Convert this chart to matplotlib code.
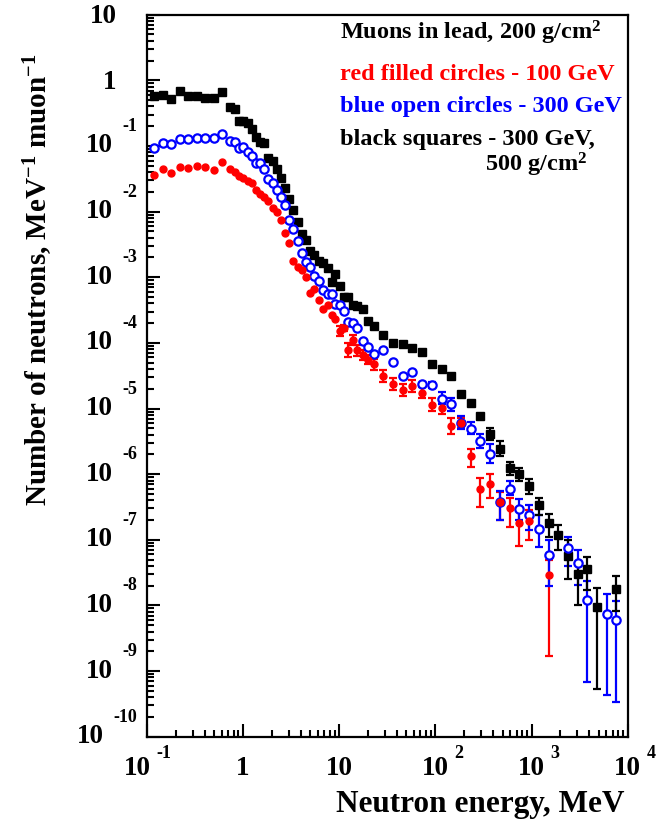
import numpy as np
import matplotlib
matplotlib.use('Agg')
import matplotlib.pyplot as plt

plt.rcParams['font.family'] = ['Liberation Serif', 'DejaVu Serif']
plt.rcParams['font.weight'] = 'bold'
plt.rcParams['mathtext.fontset'] = 'custom'
plt.rcParams['mathtext.rm'] = 'Liberation Serif:bold'
plt.rcParams['mathtext.it'] = 'Liberation Serif:bold:italic'
plt.rcParams['mathtext.bf'] = 'Liberation Serif:bold'

# neutron energy bins, MeV
energy = [0.120, 0.149, 0.181, 0.221, 0.270, 0.333, 0.407, 0.497, 0.609,
          0.738, 0.824, 0.916, 1.01, 1.12, 1.24, 1.36, 1.50, 1.66, 1.84,
          2.04, 2.25, 2.49, 2.74, 3.04, 3.35, 3.71, 4.11, 4.55, 5.02,
          5.54, 6.18, 6.85, 7.58, 8.41, 9.15, 10.1, 11.2, 12.5, 13.8,
          15.4, 17.7, 20.1, 22.9, 28.7, 36.6, 45.7, 57.8, 72.3, 91.9,
          116, 146, 186, 233, 294, 373, 468, 592, 747, 944,
          1200, 1510, 1900, 2390, 3020, 3810, 4810, 6030, 7580]

# black squares - 300 GeV, 500 g/cm2
black = [0.576, 0.597, 0.513, 0.687, 0.582, 0.582, 0.543, 0.532, 0.656,
         0.392, 0.365, 0.242, 0.240, 0.221, 0.179, 0.139, 0.117, 0.110, 0.0661,
         0.0599, 0.0452, 0.0321, 0.0232, 0.0153, 0.01065, 0.00692, 0.00454, 0.00372, 0.00254,
         0.00217, 0.00176, 0.00166, 0.00136, 0.000857, 0.00114, 0.000731, 0.000502, 0.000502, 0.000376,
         0.000362, 3.27e-4, 2.14e-4, 1.80e-4, 1.34e-4, 1.01e-4, 9.46e-5, 8.36e-5, 7.16e-5, 4.70e-5,
         4.00e-5, 3.11e-5, 1.69e-5, 1.23e-5, 7.64e-6, 4.06e-6, 2.42e-6, 1.22e-6, 9.96e-7, 6.65e-7,
         3.44e-7, 1.79e-7, 1.20e-7, 5.60e-8, 2.98e-8, 3.61e-8, 9.46e-9, None, 1.80e-8]
black_err_start = 54
black_lo = [3.29e-6, 1.87e-6, 9.62e-7, 7.80e-7, 5.06e-7, 2.36e-7, 1.10e-7, 6.92e-8,
            2.56e-8, 1.00e-8, 1.70e-8, 5.40e-10, None, 8.11e-9]
black_hi = [5.01e-6, 3.18e-6, 1.52e-6, 1.23e-6, 8.57e-7, 4.40e-7, 2.45e-7, 1.66e-7,
            9.82e-8, 4.39e-8, 5.47e-8, 1.82e-8, None, 2.78e-8]

# blue open circles - 300 GeV
blue = [0.0939, 0.112, 0.107, 0.129, 0.127, 0.133, 0.133, 0.132, 0.152,
        0.120, 0.116, 0.0919, 0.0973, 0.0816, 0.0714, 0.0543, 0.0543, 0.0449, 0.0316,
        0.0275, 0.0213, 0.0168, 0.01243, 0.00742, 0.00547, 0.00355, 0.00231, 0.00170, 0.00144,
        0.00104, 0.000873, 0.000635, 0.000552, 0.000552, 0.000394, 0.000376, 0.000304, 0.000207, 0.000202,
        0.000166, 1.07e-4, 8.51e-5, 6.89e-5, 7.93e-5, 5.13e-5, 3.11e-5, 3.57e-5, 2.35e-5, 2.26e-5,
        1.42e-5, 1.16e-5, 6.08e-6, 4.95e-6, 3.18e-6, 2.06e-6, 3.77e-7, 6.03e-7, 2.99e-7, 2.36e-7,
        1.48e-7, 5.94e-8, None, 7.50e-8, 4.43e-8, 1.20e-8, None, 7.50e-9, 5.93e-9]
blue_err_start = 48
blue_lo = [2.04e-5, 1.16e-5, 9.09e-6, 4.83e-6, 4.06e-6, 2.48e-6, 1.47e-6, 1.98e-7, 4.77e-7, 1.98e-7,
           1.40e-7, 7.77e-8, 1.98e-8, None, 3.94e-8, 2.02e-8, 6.79e-10, None, 4.27e-10, 3.37e-10]
blue_hi = [2.52e-5, 1.77e-5, 1.44e-5, 7.64e-6, 6.18e-6, 4.06e-6, 2.86e-6, 5.48e-7, 7.87e-7, 4.25e-7,
           3.36e-7, 2.36e-7, 9.82e-8, None, 1.10e-7, 6.92e-8, 2.33e-8, None, 1.48e-8, 1.15e-8]

# red filled circles - 100 GeV
red = [0.0360, 0.0440, 0.0382, 0.0472, 0.0465, 0.0489, 0.0482, 0.0429, 0.0562,
       0.0440, 0.0404, 0.0348, 0.0327, 0.0295, 0.0269, 0.0216, 0.0183, 0.0165, 0.0145,
       0.01143, 0.00993, 0.00735, 0.00466, 0.00331, 0.00179, 0.00144, 0.00128, 0.000993, 0.000578,
       0.000659, 0.000448, 0.000334, 0.000376, 0.000264, 0.000235, 0.000153, 0.000171, 7.74e-5, 1.10e-4,
       7.74e-5, 6.49e-5, 5.58e-5, 4.73e-5, 3.18e-5, 2.35e-5, 1.90e-5, 2.19e-5, 1.73e-5, 1.15e-5,
       1.03e-5, 5.51e-6, 5.97e-6, 1.87e-6, 5.89e-7, 7.19e-7, 3.77e-7, 3.02e-7, 1.80e-7, 1.93e-7,
       None, 2.95e-8, None, None, None, None, None, None, None]
red_err_start = 35
red_lo = [1.26e-4, 1.53e-4, 6.05e-5, 9.23e-5, 6.27e-5, 5.44e-5, 4.73e-5, 3.84e-5, 2.52e-5, 1.90e-5,
          1.54e-5, 1.77e-5, 1.44e-5, 9.09e-6, 8.18e-6, 4.06e-6, 5.01e-6, 1.29e-6, 3.16e-7, 4.40e-7,
          1.98e-7, 1.57e-7, 7.96e-8, 9.82e-8, None, 1.67e-9]
red_hi = [1.80e-4, 1.89e-4, 9.89e-5, 1.31e-4, 9.23e-5, 7.74e-5, 6.49e-5, 5.64e-5, 3.84e-5, 2.90e-5,
          2.35e-5, 2.70e-5, 2.11e-5, 1.44e-5, 1.29e-5, 7.12e-6, 7.12e-6, 2.45e-6, 8.75e-7, 9.96e-7,
          5.30e-7, 4.30e-7, 3.02e-7, 2.82e-7, None, 4.87e-8]

legend_lines = ['Muons in lead, 200 g/cm$^2$',
                'red filled circles - 100 GeV',
                'blue open circles - 300 GeV',
                'black squares - 300 GeV,',
                '500 g/cm$^2$']


def draw_errors(ax, vals, start, lo, hi, color):
    e = np.array(energy, dtype=float)
    v = np.array(vals, dtype=float)
    lo_full = np.full(len(v), np.nan)
    hi_full = np.full(len(v), np.nan)
    lo_full[start:start + len(lo)] = np.array(lo, dtype=float)
    hi_full[start:start + len(hi)] = np.array(hi, dtype=float)
    m = ~np.isnan(lo_full) & ~np.isnan(v)
    yerr = np.vstack([v[m] - lo_full[m], hi_full[m] - v[m]])
    ax.errorbar(e[m], v[m], yerr=yerr, fmt='none', ecolor=color,
                elinewidth=1.6, capsize=3.2, capthick=1.6, zorder=2)


fig = plt.figure(figsize=(6.68, 8.27), dpi=100)
ax = fig.add_axes([0.2196, 0.1092, 0.7201, 0.8730])
ax.set_xscale('log')
ax.set_yscale('log')
ax.set_xlim(0.1, 1e4)
ax.set_ylim(1e-10, 10)

draw_errors(ax, red, red_err_start, red_lo, red_hi, 'red')
draw_errors(ax, blue, blue_err_start, blue_lo, blue_hi, 'blue')
draw_errors(ax, black, black_err_start, black_lo, black_hi, 'black')

E = np.array(energy, dtype=float)
ax.plot(E, np.array(black, dtype=float), 's', color='black', ms=5.5, zorder=3)
ax.plot(E, np.array(blue, dtype=float), 'o', mfc='white', mec='blue', mew=1.6, ms=6, zorder=4)
ax.plot(E, np.array(red, dtype=float), 'o', color='red', ms=5, zorder=5)

for s in ax.spines.values():
    s.set_linewidth(1.6)
ax.tick_params(which='both', direction='in', left=True, bottom=True, right=False, top=False,
               labelleft=False, labelbottom=False, width=1.5)
ax.tick_params(which='major', length=9.5)
ax.tick_params(which='minor', length=5)
ax.yaxis.set_major_locator(matplotlib.ticker.LogLocator(base=10, numticks=20))
ax.yaxis.set_minor_locator(matplotlib.ticker.LogLocator(base=10, subs=np.arange(2, 10), numticks=20))

# ROOT-style tick labels
ytr = ax.get_yaxis_transform()
for k in range(-10, 2):
    v = 10.0 ** k
    if k == 1 or k == 0:
        ax.annotate('10' if k == 1 else '1', xy=(0, v), xycoords=ytr, xytext=(-21.5, -1.5),
                    textcoords='offset points', ha='right', va='center', fontsize=19.5)
        continue
    ex = ax.annotate('-%d' % (-k), xy=(0, v), xycoords=ytr, xytext=(-7, 14),
                     textcoords='offset points', ha='right', va='center', fontsize=13)
    ax.annotate('10', xy=(0, 0.5), xycoords=ex, xytext=(-6.5, -14),
                textcoords='offset points', ha='right', va='center', fontsize=19.5)

xtr = ax.get_xaxis_transform()
for k in range(-1, 5):
    v = 10.0 ** k
    if k == 0:
        ax.annotate('1', xy=(v, 0), xycoords=xtr, xytext=(0, -23),
                    textcoords='offset points', ha='center', va='center', fontsize=19.5)
        continue
    shift = -7 if k == -1 else 0
    ten = ax.annotate('10', xy=(v, 0), xycoords=xtr, xytext=(shift, -23),
                      textcoords='offset points', ha='center', va='center', fontsize=19.5)
    if k != 1:
        lab = '-1' if k < 0 else str(k)
        ax.annotate(lab, xy=(1, 0.5), xycoords=ten, xytext=(4, 11),
                    textcoords='offset points', ha='left', va='center', fontsize=13)

fig.text(0.058, 0.935, 'Number of neutrons, MeV$^{-1}$ muon$^{-1}$', rotation=90,
         ha='center', va='top', fontsize=21)
fig.text(0.9356, 0.018, 'Neutron energy, MeV', ha='right', va='baseline', fontsize=22.5)

colors = ['black', 'red', 'blue', 'black', 'black']
xs = [0.402, 0.402, 0.402, 0.402, 0.703]
ys = [0.965, 0.9096, 0.865, 0.8196, 0.7835]
for t, c, x, y in zip(legend_lines, colors, xs, ys):
    ax.text(x, y, t, color=c, transform=ax.transAxes, ha='left', va='baseline', fontsize=17.5)

fig.savefig('out.png', dpi=100)
